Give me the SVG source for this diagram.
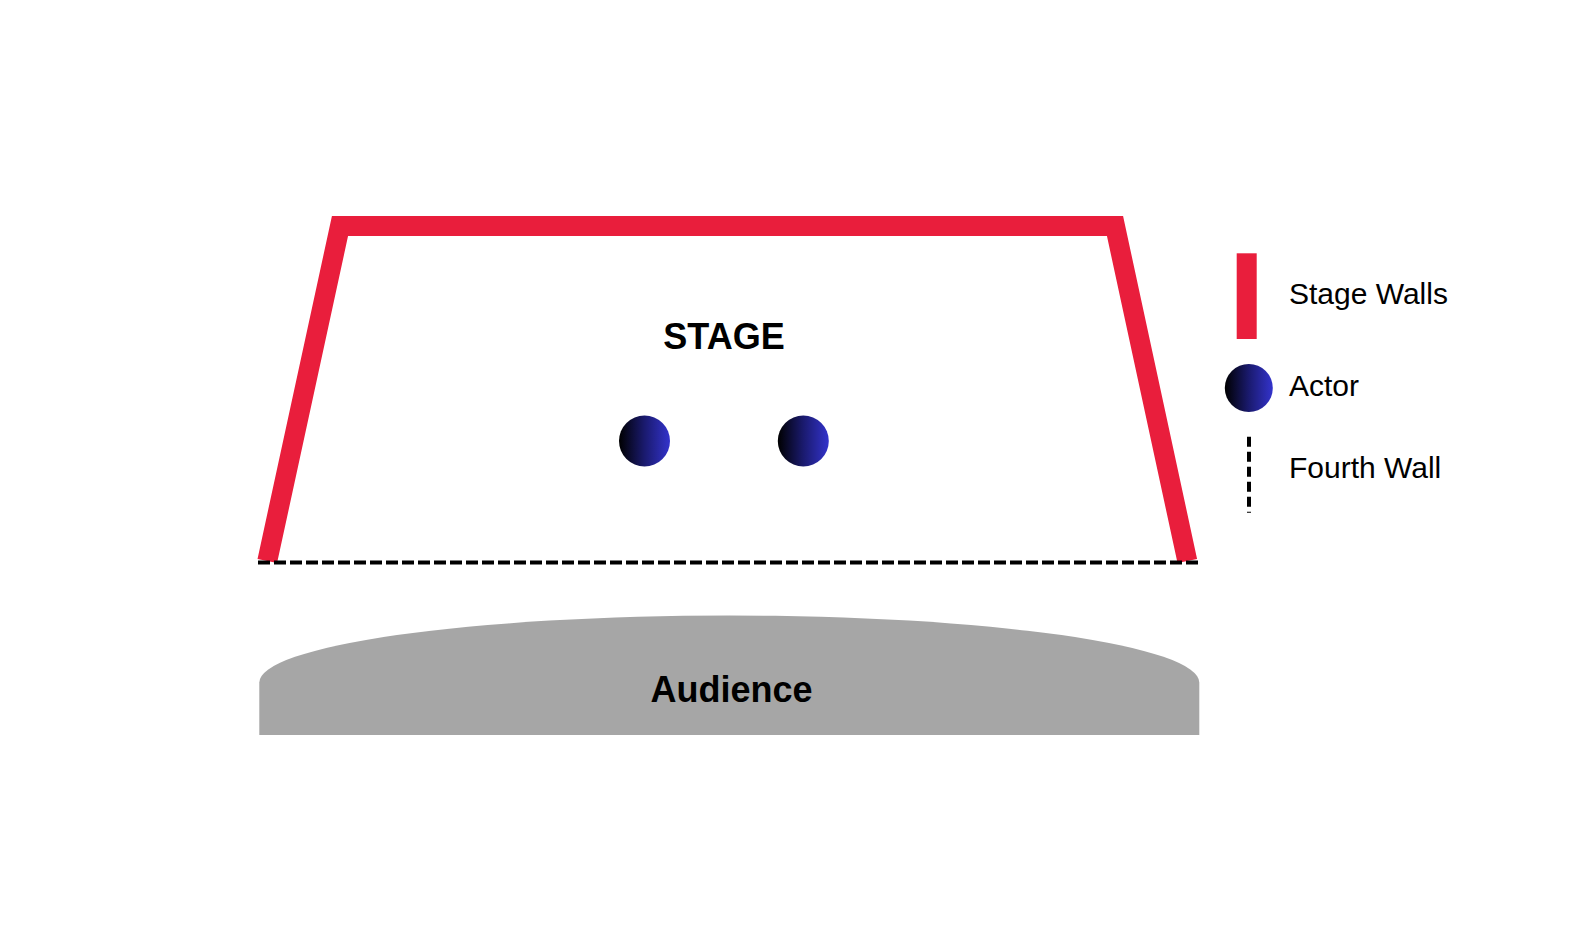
<svg xmlns="http://www.w3.org/2000/svg" width="1576" height="926" viewBox="0 0 1576 926">
<defs>
<linearGradient id="actorGrad" x1="0" y1="0" x2="1" y2="0">
<stop offset="0" stop-color="#000000"/>
<stop offset="0.5" stop-color="#1a1a6e"/>
<stop offset="1" stop-color="#3333cc"/>
</linearGradient>
<style>
.wall{fill:none;stroke:#e91e3c;stroke-width:20;stroke-linejoin:miter}
.fourth{fill:none;stroke:#000;stroke-width:4;stroke-dasharray:12 4}
.actor{fill:url(#actorGrad)}
.lbl{font-family:"Liberation Sans",Arial,sans-serif;font-size:30px;fill:#000}
.big{font-family:"Liberation Sans",Arial,sans-serif;font-size:36px;font-weight:bold;fill:#000;text-anchor:middle}
</style>
</defs>
<rect width="1576" height="926" fill="#fff"/>
<g id="audience">
<path d="M259.3,735 L259.3,682.5 A470,67 0 0 1 1199.3,682.5 L1199.3,735 Z" fill="#a6a6a6"/>
<text class="big" x="731.5" y="702">Audience</text>
</g>
<g id="stage">
<polyline class="wall" points="267.3,561 340,226 1115,226 1187.3,561"/>
<text class="big" x="724" y="348.5">STAGE</text>
</g>
<g id="connectors">
<line class="fourth" x1="258" y1="562.5" x2="1198" y2="562.5"/>
</g>
<g id="actor1"><circle class="actor" cx="644.5" cy="441" r="25.5"/></g>
<g id="actor2"><circle class="actor" cx="803.3" cy="441" r="25.5"/></g>
<g id="legend">
<rect x="1236.7" y="253.3" width="20" height="85.7" fill="#e91e3c"/>
<text class="lbl" x="1289" y="304.3">Stage Walls</text>
<circle class="actor" cx="1248.8" cy="388" r="24"/>
<text class="lbl" x="1289" y="396">Actor</text>
<line x1="1249" y1="436.7" x2="1249" y2="512.7" stroke="#000" stroke-width="4" stroke-dasharray="10 5"/>
<text class="lbl" x="1289" y="478.3">Fourth Wall</text>
</g>
</svg>
